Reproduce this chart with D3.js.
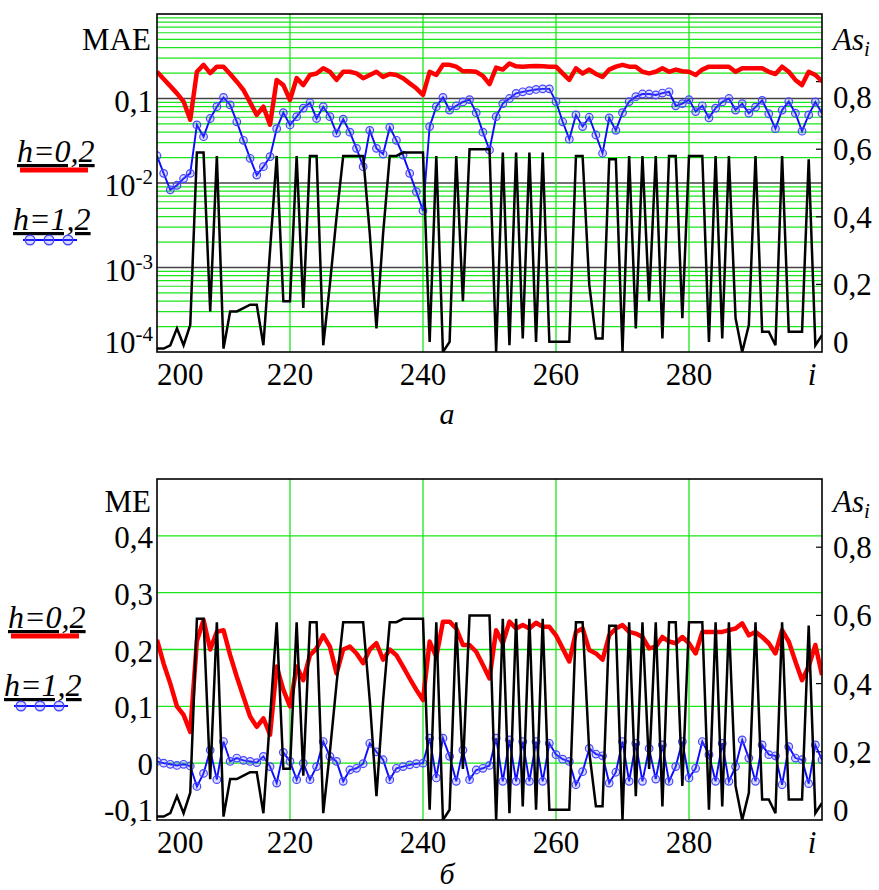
<!DOCTYPE html>
<html>
<head>
<meta charset="utf-8">
<script src="https://cdn.jsdelivr.net/npm/d3@7"></script>
<style>
  body { margin: 0; background: #fff; }
</style>
</head>
<body>
<svg id="chart" width="879" height="890"></svg>
<script>
// index i runs from 200 to 300, one value per step
const iStart = 200;

// panel a: MAE (log axis), h = 0,2 and h = 1,2
const maeH02 = [
  0.207, 0.17, 0.14, 0.115, 0.092, 0.056, 0.207, 0.25, 0.2, 0.238,
  0.238, 0.195, 0.158, 0.126, 0.09, 0.064, 0.08, 0.049, 0.166, 0.144,
  0.096, 0.174, 0.144, 0.19, 0.198, 0.228, 0.207, 0.166, 0.207, 0.207,
  0.198, 0.174, 0.19, 0.207, 0.18, 0.195, 0.19, 0.174, 0.151, 0.132,
  0.11, 0.207, 0.19, 0.25, 0.25, 0.238, 0.21, 0.21, 0.207, 0.185,
  0.148, 0.232, 0.22, 0.26, 0.24, 0.238, 0.24, 0.242, 0.24, 0.238,
  0.238, 0.198, 0.166, 0.228, 0.198, 0.22, 0.195, 0.18, 0.22, 0.238,
  0.25, 0.238, 0.238, 0.207, 0.198, 0.207, 0.228, 0.207, 0.22, 0.21,
  0.207, 0.19, 0.22, 0.238, 0.238, 0.238, 0.238, 0.207, 0.228, 0.228,
  0.228, 0.228, 0.207, 0.195, 0.238, 0.207, 0.166, 0.144, 0.207, 0.19,
  0.16
];
const maeH12 = [
  0.021, 0.013, 0.0083, 0.0094, 0.0113, 0.013, 0.0486, 0.0353, 0.058, 0.08,
  0.103, 0.084, 0.053, 0.032, 0.0196, 0.0124, 0.0156, 0.0205, 0.044, 0.068,
  0.0486, 0.061, 0.077, 0.089, 0.058, 0.08, 0.061, 0.039, 0.057, 0.04,
  0.0257, 0.0156, 0.042, 0.0257, 0.022, 0.0455, 0.032, 0.0214, 0.013, 0.0079,
  0.0047, 0.0465, 0.08, 0.103, 0.073, 0.082, 0.091, 0.097, 0.068, 0.04,
  0.0246, 0.061, 0.087, 0.1, 0.115, 0.12, 0.124, 0.128, 0.13, 0.13,
  0.092, 0.053, 0.033, 0.064, 0.0465, 0.06, 0.037, 0.0225, 0.059, 0.042,
  0.068, 0.092, 0.105, 0.113, 0.113, 0.11, 0.116, 0.12, 0.082, 0.087,
  0.097, 0.07, 0.082, 0.059, 0.077, 0.091, 0.1, 0.073, 0.087, 0.067,
  0.079, 0.095, 0.066, 0.044, 0.073, 0.092, 0.067, 0.041, 0.064, 0.091,
  0.067
];

// panel б: ME, h = 0,2 and h = 1,2
const meH02 = [
  0.217, 0.175, 0.14, 0.1, 0.085, 0.055, 0.215, 0.252, 0.2, 0.231,
  0.234, 0.19, 0.152, 0.117, 0.082, 0.064, 0.079, 0.05, 0.17, 0.129,
  0.1, 0.17, 0.146, 0.19, 0.202, 0.225, 0.205, 0.158, 0.2, 0.205,
  0.193, 0.176, 0.2, 0.211, 0.182, 0.2, 0.19, 0.17, 0.149, 0.129,
  0.111, 0.214, 0.187, 0.249, 0.249, 0.237, 0.208, 0.208, 0.196, 0.173,
  0.149, 0.234, 0.211, 0.249, 0.237, 0.243, 0.237, 0.247, 0.24, 0.24,
  0.225, 0.202, 0.179, 0.231, 0.237, 0.199, 0.193, 0.182, 0.225, 0.237,
  0.243, 0.231, 0.228, 0.222, 0.202, 0.205, 0.222, 0.214, 0.211, 0.222,
  0.211, 0.193, 0.231, 0.231, 0.231, 0.231, 0.234, 0.237, 0.246, 0.225,
  0.231, 0.222, 0.211, 0.193, 0.234, 0.214, 0.179, 0.146, 0.17, 0.208,
  0.155
];
const meH12 = [
  0.003, 0.0, -0.002, -0.004, -0.002, -0.005, -0.041, -0.018, 0.023, -0.029,
  0.038, 0.003, 0.009, 0.005, 0.003, 0.001, 0.012, -0.006, -0.035, 0.019,
  0.003, -0.029, 0.0, -0.029, -0.006, 0.038, 0.012, 0.003, -0.032, -0.012,
  -0.009, -0.001, 0.035, 0.02, 0.006, -0.029, -0.009, -0.006, -0.003, -0.001,
  0.0, 0.044, -0.026, 0.044, 0.012, -0.032, 0.023, -0.029, -0.012, -0.009,
  -0.004, 0.044, -0.032, 0.041, -0.032, 0.038, -0.032, 0.038, -0.032, 0.035,
  0.015, 0.007, 0.003, -0.038, -0.015, 0.026, 0.016, 0.013, -0.035, -0.016,
  0.038, -0.032, 0.035, -0.032, 0.026, -0.028, 0.032, -0.032, -0.006, 0.038,
  -0.026, -0.009, 0.038, 0.015, -0.032, 0.035, -0.032, -0.006, 0.041, 0.009,
  -0.032, 0.032, 0.015, 0.013, -0.038, 0.029, 0.009, 0.006, -0.036, 0.032,
  0.006
];

// As_i, right axis of both panels
const asI = [
  0.01, 0.01, 0.02, 0.07, 0.02, 0.08, 0.59, 0.59, 0.12, 0.58,
  0.01, 0.12, 0.12, 0.13, 0.14, 0.14, 0.02, 0.3, 0.58, 0.15,
  0.15, 0.58, 0.13, 0.58, 0.58, 0.02, 0.2, 0.4, 0.58, 0.58,
  0.58, 0.58, 0.35, 0.07, 0.35, 0.58, 0.58, 0.59, 0.59, 0.59,
  0.59, 0.03, 0.58, 0.0, 0.03, 0.58, 0.15, 0.6, 0.6, 0.6,
  0.6, 0.0, 0.59, 0.02, 0.59, 0.04, 0.59, 0.03, 0.59, 0.03,
  0.03, 0.03, 0.03, 0.58, 0.58, 0.2, 0.04, 0.04, 0.57, 0.57,
  0.0, 0.58, 0.07, 0.58, 0.15, 0.58, 0.04, 0.58, 0.58, 0.1,
  0.58, 0.58, 0.58, 0.03, 0.58, 0.04, 0.58, 0.1, 0.0, 0.08,
  0.58, 0.06, 0.06, 0.02, 0.58, 0.06, 0.06, 0.06, 0.57, 0.02,
  0.05
];

// axes
const xDomain = [200, 300];
const xTicks = [200, 220, 240, 260, 280];
const xGridLines = [220, 240, 260, 280];
const asDomain = [0, 1];
const asTicks = [0, 0.2, 0.4, 0.6, 0.8];
const asTickLabels = ['0', '0,2', '0,4', '0,6', '0,8'];
const maeDomain = [1e-4, 1];
const maeTicks = [1e-4, 1e-3, 1e-2, 0.1];
const maeTickLabels = [['10', '-4'], ['10', '-3'], ['10', '-2'], ['0,1', '']];
const meDomain = [-0.1, 0.5];
const meTicks = [-0.1, 0, 0.1, 0.2, 0.3, 0.4];
const meTickLabels = ['-0,1', '0', '0,1', '0,2', '0,3', '0,4'];
const meGridLines = [0, 0.1, 0.2, 0.3, 0.4];
const legendLabels = ['h=0,2', 'h=1,2'];

const RED = '#ff0000', BLUE = '#0a0aff', GREEN = '#19e619';
const FONT = 'Liberation Serif';
const svg = d3.select('#chart');
const toPoints = arr => arr.map((v, k) => ({ i: iStart + k, v }));

// every label goes through here so the serif face is set on the element itself
function label(g, x, y, size, italic) {
  return g.append('text').attr('x', x).attr('y', y)
    .style('font-family', FONT)
    .style('font-size', size + 'px')
    .style('font-style', italic ? 'italic' : 'normal')
    .style('fill', '#000');
}

function drawPanel(p) {
  const g = svg.append('g');
  const x = d3.scaleLinear().domain(xDomain).range([p.left, p.right]);
  const yL = (p.log ? d3.scaleLog() : d3.scaleLinear()).domain(p.leftDomain).range([p.bottom, p.top]);
  const yR = d3.scaleLinear().domain(asDomain).range([p.bottom, p.top]);

  const clipId = 'clip-' + p.id;
  g.append('clipPath').attr('id', clipId)
    .append('rect')
    .attr('x', p.left).attr('y', p.top)
    .attr('width', p.right - p.left).attr('height', p.bottom - p.top);

  // horizontal grid
  if (p.log) {
    const isDecade = d => Math.abs(Math.log10(d) - Math.round(Math.log10(d))) < 1e-9;
    const vals = yL.ticks().filter(v => v > maeDomain[0] && v < maeDomain[1]);
    g.selectAll('.hgrid').data(vals).enter().append('line')
      .attr('x1', p.left).attr('x2', p.right)
      .attr('y1', d => yL(d)).attr('y2', d => yL(d))
      .attr('stroke', d => isDecade(d) ? '#444' : GREEN)
      .attr('stroke-width', d => isDecade(d) ? 1.6 : 1.2);
  } else {
    g.selectAll('.hgrid').data(meGridLines).enter().append('line')
      .attr('x1', p.left).attr('x2', p.right)
      .attr('y1', d => yL(d)).attr('y2', d => yL(d))
      .attr('stroke', GREEN).attr('stroke-width', 1.3);
  }
  // vertical grid
  g.selectAll('.vgrid').data(xGridLines).enter().append('line')
    .attr('x1', d => x(d)).attr('x2', d => x(d))
    .attr('y1', p.top).attr('y2', p.bottom)
    .attr('stroke', GREEN).attr('stroke-width', 1.3);

  // right axis ticks
  g.selectAll('.rtick').data(asTicks.filter(v => v > 0)).enter().append('line')
    .attr('x1', p.right - 6).attr('x2', p.right)
    .attr('y1', d => yR(d)).attr('y2', d => yR(d))
    .attr('stroke', '#000').attr('stroke-width', 1.2);

  const plot = g.append('g').attr('clip-path', `url(#${clipId})`);
  const lineL = d3.line().x(d => x(d.i)).y(d => yL(d.v));
  const lineR = d3.line().x(d => x(d.i)).y(d => yR(d.v));

  plot.append('path').datum(toPoints(p.red))
    .attr('d', lineL).attr('fill', 'none')
    .attr('stroke', RED).attr('stroke-width', 4.5).attr('stroke-linejoin', 'round');

  const blue = toPoints(p.blue);
  plot.append('path').datum(blue)
    .attr('d', lineL).attr('fill', 'none')
    .attr('stroke', BLUE).attr('stroke-width', 1.9);
  plot.selectAll('.mk').data(blue).enter().append('circle')
    .attr('cx', d => x(d.i)).attr('cy', d => yL(d.v)).attr('r', 3.8)
    .attr('fill', 'rgba(110,110,255,0.25)').attr('stroke', '#4646ff').attr('stroke-width', 1.2);

  plot.append('path').datum(toPoints(asI))
    .attr('d', lineR).attr('fill', 'none')
    .attr('stroke', '#000').attr('stroke-width', 2.5);

  // frame
  g.append('rect')
    .attr('x', p.left).attr('y', p.top)
    .attr('width', p.right - p.left).attr('height', p.bottom - p.top)
    .attr('fill', 'none').attr('stroke', '#000').attr('stroke-width', 1.6);

  const fs = 31;
  // left tick labels
  p.leftTicks.forEach((v, k) => {
    const by = Math.min(yL(v) + p.leftDy, p.bottom + 1);
    const t = label(g, p.left - 4, by, fs, false).attr('text-anchor', 'end');
    const lab = p.leftLabels[k];
    if (Array.isArray(lab)) {
      t.append('tspan').text(lab[0]);
      if (lab[1]) t.append('tspan').attr('dy', -12).style('font-size', '21px').text(lab[1]);
    } else {
      t.text(lab);
    }
  });
  // right tick labels
  asTicks.forEach((v, k) => {
    const by = Math.max(Math.min(yR(v) + 11, p.bottom + 1), p.rightMinBaseline);
    label(g, p.right + 11, by, fs, false).text(asTickLabels[k]);
  });
  // x tick labels
  xTicks.forEach((v, k) => {
    label(g, k === 0 ? p.left : x(v), p.bottom + 33, fs, false)
      .attr('text-anchor', k === 0 ? 'start' : 'middle').text(v);
  });
  label(g, p.right - 10, p.bottom + 33, fs, true).attr('text-anchor', 'middle').text('i');

  // axis titles
  label(g, p.left - 6, p.top + p.titleDy, fs, false).attr('text-anchor', 'end').text(p.leftTitle);
  const as = label(g, p.right + 11, p.top + p.titleDy, fs, true);
  as.append('tspan').text('As');
  as.append('tspan').attr('dy', 6).style('font-size', '21px').text('i');

  // caption
  label(g, 447, p.bottom + p.captionDy, 30, true).attr('text-anchor', 'middle').text(p.caption);

  // legend
  const lg = p.legend;
  label(g, lg.x, lg.y1, 32, true).style('text-decoration', 'underline').text(legendLabels[0]);
  g.append('line').attr('x1', lg.x + 3).attr('x2', lg.x + 71)
    .attr('y1', lg.y1 + 8).attr('y2', lg.y1 + 8)
    .attr('stroke', RED).attr('stroke-width', 5);
  label(g, lg.x - 4, lg.y2, 32, true).style('text-decoration', 'underline').text(legendLabels[1]);
  const ly = lg.y2 + 10;
  g.append('line').attr('x1', lg.x + 6).attr('x2', lg.x + 60)
    .attr('y1', ly).attr('y2', ly).attr('stroke', BLUE).attr('stroke-width', 2.2);
  g.selectAll('.lgmk').data([0, 1, 2]).enter().append('circle')
    .attr('cx', d => lg.x + 13 + d * 19).attr('cy', ly).attr('r', 4.8)
    .attr('fill', 'rgba(110,110,255,0.25)').attr('stroke', '#4646ff').attr('stroke-width', 1.4);
}

drawPanel({
  id: 'a', left: 157, right: 822, top: 14, bottom: 352, log: true,
  leftDomain: maeDomain, leftTicks: maeTicks, leftLabels: maeTickLabels, leftDy: 13,
  rightMinBaseline: 108, leftTitle: 'MAE', titleDy: 36,
  red: maeH02, blue: maeH12, caption: 'а', captionDy: 72,
  legend: { x: 17, y1: 162, y2: 230 }
});
drawPanel({
  id: 'b', left: 157, right: 822, top: 479, bottom: 820, log: false,
  leftDomain: meDomain, leftTicks: meTicks, leftLabels: meTickLabels, leftDy: 12,
  rightMinBaseline: 0, leftTitle: 'ME', titleDy: 33,
  red: meH02, blue: meH12, caption: 'б', captionDy: 64,
  legend: { x: 8, y1: 628, y2: 696 }
});
</script>
</body>
</html>
